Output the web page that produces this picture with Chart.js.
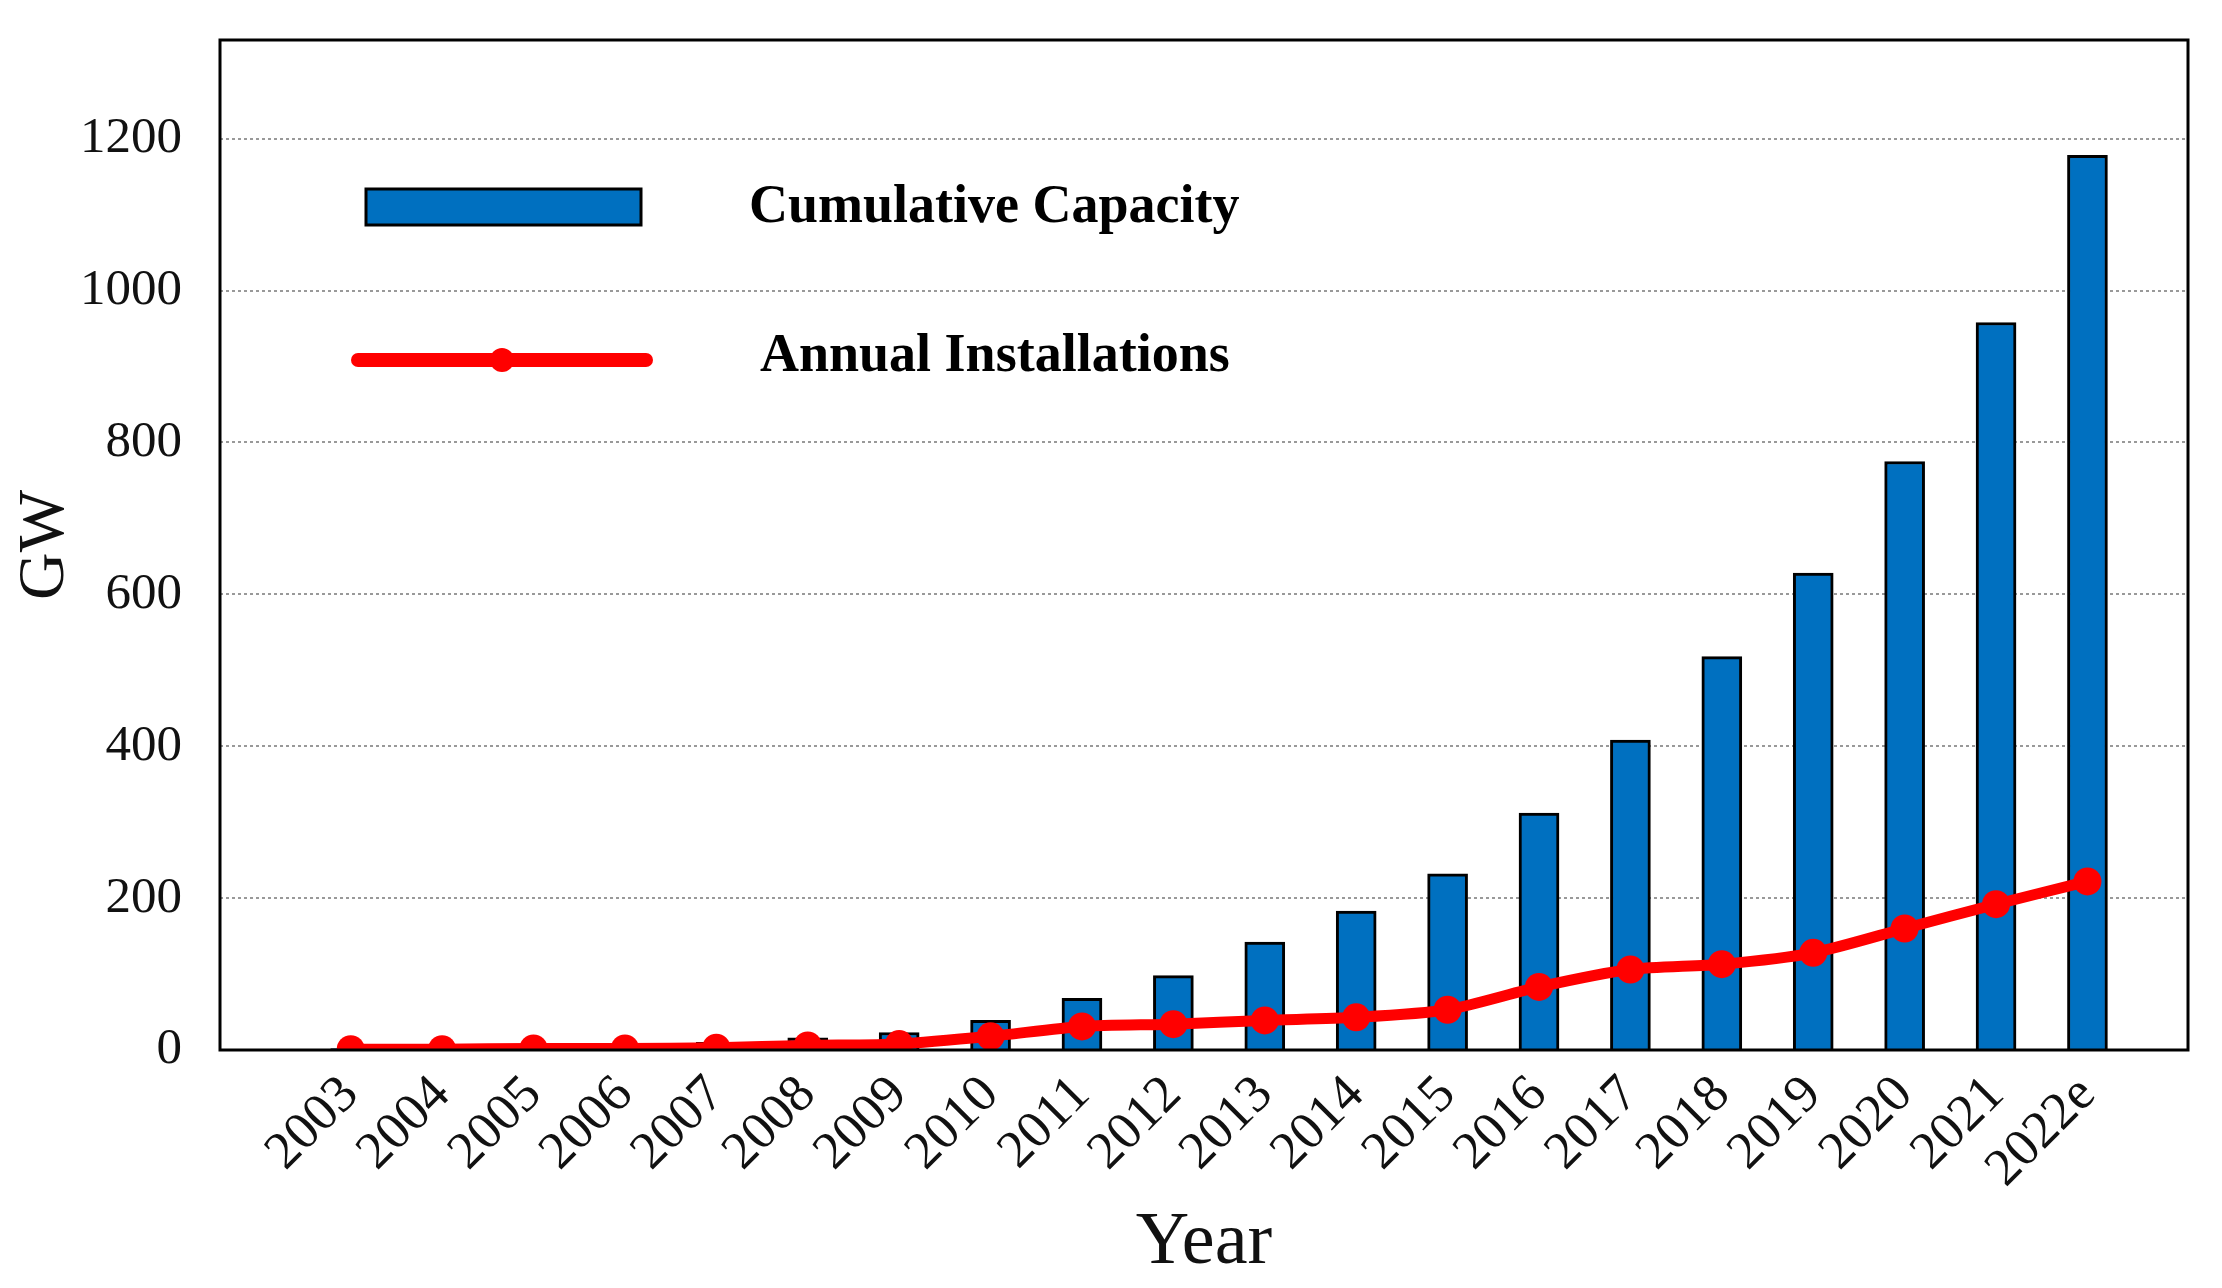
<!DOCTYPE html>
<html>
<head>
<meta charset="utf-8">
<script src="https://cdn.jsdelivr.net/npm/chart.js@4.4.1/dist/chart.umd.min.js"></script>
<style>
  html, body { margin: 0; padding: 0; background: #fff; }
  canvas { display: block; }
</style>
</head>
<body>
<canvas id="pvChart" width="2222" height="1288"></canvas>
<script>
// values (GW)
var years = ['2003', '2004', '2005', '2006', '2007', '2008', '2009', '2010', '2011', '2012',
             '2013', '2014', '2015', '2016', '2017', '2018', '2019', '2020', '2021', '2022e'];
var cumulative = [2, 4, 6, 8, 10, 16, 23, 39, 68, 98, 142, 183, 232, 312, 408, 518, 628, 775, 958, 1178];
var annual = [1, 1, 2, 2, 3, 6, 8, 18, 31, 34, 39, 43, 53, 83, 106, 113, 128, 160, 192, 222];
var yTicks = [0, 200, 400, 600, 800, 1000, 1200];

var serif = "'Liberation Serif', 'Times New Roman', serif";

function points(arr) {
  return arr.map(function(v, i) { return { x: i, y: v }; });
}

// legend drawn inside the plot, top left, plus the black frame
var frameAndLegend = {
  id: 'frameAndLegend',
  afterDraw: function(chart) {
    var ctx = chart.ctx;
    var a = chart.chartArea;
    var bar = chart.data.datasets[1];
    var line = chart.data.datasets[0];
    ctx.save();

    ctx.fillStyle = bar.backgroundColor;
    ctx.strokeStyle = '#000';
    ctx.lineWidth = 3;
    ctx.fillRect(a.left + 146, a.top + 149, 275, 36);
    ctx.strokeRect(a.left + 146, a.top + 149, 275, 36);

    ctx.strokeStyle = line.borderColor;
    ctx.lineWidth = 14;
    ctx.lineCap = 'round';
    ctx.beginPath();
    ctx.moveTo(a.left + 138, a.top + 320);
    ctx.lineTo(a.left + 426, a.top + 320);
    ctx.stroke();
    ctx.fillStyle = line.pointBackgroundColor;
    ctx.beginPath();
    ctx.arc(a.left + 282, a.top + 320, 12, 0, Math.PI * 2);
    ctx.fill();

    ctx.fillStyle = '#000';
    ctx.font = 'bold 54px ' + serif;
    ctx.textBaseline = 'middle';
    ctx.fillText(bar.label, a.left + 529, a.top + 168);
    ctx.fillText(line.label, a.left + 540, a.top + 317);

    ctx.strokeStyle = '#000';
    ctx.lineWidth = 3;
    ctx.lineCap = 'butt';
    ctx.strokeRect(a.left, a.top, a.right - a.left, a.bottom - a.top);
    ctx.restore();
  }
};

var ctx = document.getElementById('pvChart');

var pvChart = new Chart(ctx, {
  data: {
    datasets: [{
      type: 'line',
      label: 'Annual Installations',
      data: points(annual),
      borderColor: '#ff0000',
      borderWidth: 11,
      pointBackgroundColor: '#ff0000',
      pointBorderColor: '#ff0000',
      pointRadius: 14,
      pointBorderWidth: 0,
      tension: 0.25,
      order: 0
    }, {
      type: 'bar',
      label: 'Cumulative Capacity',
      data: points(cumulative),
      backgroundColor: '#0070c0',
      borderColor: '#000',
      borderWidth: 3,
      barThickness: 40,
      order: 1
    }]
  },
  options: {
    responsive: false,
    animation: false,
    devicePixelRatio: 1,
    layout: { padding: { top: 40, right: 34, left: 0, bottom: 0 } },
    plugins: { legend: { display: false }, tooltip: { enabled: false } },
    scales: {
      x: {
        type: 'linear',
        offset: false,
        min: -1.43,
        max: 20.1,
        grid: { display: false },
        border: { display: false },
        afterBuildTicks: function(scale) {
          scale.ticks = years.map(function(_, i) { return { value: i }; });
        },
        afterFit: function(scale) {
          scale.height = 238;
          scale.paddingLeft = 0;
          scale.paddingRight = 0;
        },
        ticks: {
          autoSkip: false,
          minRotation: 45,
          maxRotation: 45,
          padding: 6,
          color: '#111',
          font: { family: serif, size: 53 },
          callback: function(v) { return years[v]; }
        },
        title: {
          display: true,
          text: 'Year',
          color: '#111',
          font: { family: serif, size: 74 },
          padding: { top: 0, bottom: 0 }
        }
      },
      y: {
        min: 0,
        max: 1330,
        grid: { color: '#999', lineWidth: 2, drawTicks: false },
        border: { display: false, dash: [3, 3] },
        afterBuildTicks: function(scale) {
          scale.ticks = yTicks.map(function(v) { return { value: v }; });
        },
        afterFit: function(scale) {
          scale.width = 220;
          scale.paddingTop = 0;
          scale.paddingBottom = 0;
        },
        ticks: {
          padding: 38,
          color: '#111',
          font: { family: serif, size: 51 },
          callback: function(v) { return String(v); }
        },
        title: {
          display: true,
          text: 'GW',
          color: '#111',
          font: { family: serif, size: 66 },
          padding: { top: 6, bottom: 0 }
        }
      }
    }
  },
  plugins: [frameAndLegend]
});
</script>
</body>
</html>
